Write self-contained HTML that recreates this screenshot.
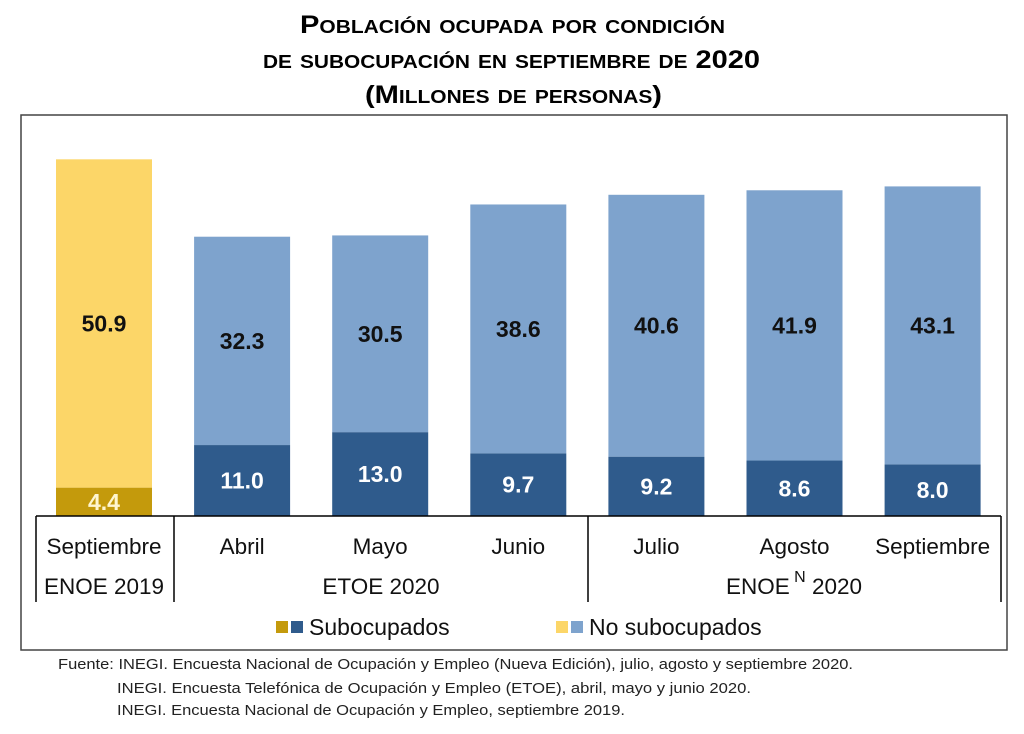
<!DOCTYPE html>
<html><head><meta charset="utf-8"><style>
body{margin:0;background:#fff;font-family:"Liberation Sans",sans-serif;}
svg text{font-family:"Liberation Sans",sans-serif;}
</style></head><body>
<svg width="1024" height="729" xmlns="http://www.w3.org/2000/svg">
<g font-weight="bold" fill="#000">
<text x="300" y="33" font-size="25" textLength="425" lengthAdjust="spacingAndGlyphs" style="font-variant:small-caps">Población ocupada por condición</text>
<text x="263" y="68" font-size="25" textLength="497" lengthAdjust="spacingAndGlyphs" style="font-variant:small-caps">de subocupación en septiembre de 2020</text>
<text x="365" y="103" font-size="25" textLength="297" lengthAdjust="spacingAndGlyphs" style="font-variant:small-caps">(Millones de personas)</text>
</g>
<rect x="21" y="115" width="986" height="535" fill="none" stroke="#444" stroke-width="1.5"/>
<g id="bars"></g>
<g stroke="#000" stroke-width="1.5">
<line x1="36" y1="516" x2="1001" y2="516"/>
<line x1="36" y1="516" x2="36" y2="602"/>
<line x1="174" y1="516" x2="174" y2="602"/>
<line x1="588" y1="516" x2="588" y2="602"/>
<line x1="1001" y1="516" x2="1001" y2="602"/>
</g>
<g id="cats" font-size="22.5" text-anchor="middle" fill="#111"></g>
<g font-size="22.5" text-anchor="middle" fill="#111">
<text x="104" y="594">ENOE 2019</text>
<text x="381" y="594">ETOE 2020</text>
<text x="794" y="594">ENOE<tspan dy="-12" font-size="16"> N</tspan><tspan dy="12"> 2020</tspan></text>
</g>
<g font-size="23" fill="#111">
<rect x="276" y="621" width="12" height="12" fill="#c49a0c"/>
<rect x="291" y="621" width="12" height="12" fill="#2f5b8c"/>
<text x="309" y="635">Subocupados</text>
<rect x="556" y="621" width="12" height="12" fill="#fcd668"/>
<rect x="571" y="621" width="12" height="12" fill="#7ea3cd"/>
<text x="589" y="635">No subocupados</text>
</g>
<g font-size="15" fill="#222">
<text x="58" y="669" textLength="795" lengthAdjust="spacingAndGlyphs">Fuente: INEGI. Encuesta Nacional de Ocupación y Empleo (Nueva Edición), julio, agosto y septiembre 2020.</text>
<text x="117" y="693" textLength="634" lengthAdjust="spacingAndGlyphs">INEGI. Encuesta Telefónica de Ocupación y Empleo (ETOE), abril, mayo y junio 2020.</text>
<text x="117" y="715" textLength="508" lengthAdjust="spacingAndGlyphs">INEGI. Encuesta Nacional de Ocupación y Empleo, septiembre 2019.</text>
</g>
</svg>
<script>
const categories=["Septiembre","Abril","Mayo","Junio","Julio","Agosto","Septiembre"];
const subocupados=[4.4,11.0,13.0,9.7,9.2,8.6,8.0];
const noSubocupados=[50.9,32.3,30.5,38.6,40.6,41.9,43.1];
const NS="http://www.w3.org/2000/svg";
const baseY=516,scale=6.45,x0=104,step=138.1,bw=96;
function yPx(v){return baseY-v*scale;}
function xC(i){return x0+i*step;}
const bars=document.getElementById('bars'),cats=document.getElementById('cats');
function mk(tag,attrs,parent){const e=document.createElementNS(NS,tag);for(const k in attrs)e.setAttribute(k,attrs[k]);parent.appendChild(e);return e;}
categories.forEach((c,i)=>{
 const s=subocupados[i],n=noSubocupados[i],cx=xC(i);
 const r1=mk('rect',{x:cx-bw/2,y:yPx(s),width:bw,height:baseY-yPx(s),fill:i==0?'#c49a0c':'#2f5b8c'},bars);
 
 
 const r2=mk('rect',{x:cx-bw/2,y:yPx(s+n),width:bw,height:yPx(s)-yPx(s+n),fill:i==0?'#fcd668':'#7ea3cd'},bars);
 
 
 const t1=mk('text',{x:cx,y:(yPx(s)+baseY)/2+8,'text-anchor':'middle','font-size':23,'font-weight':'bold',fill:i==0?'#fff6d0':'#fff'},bars);
 t1.textContent=s.toFixed(1);
 
 
 const t2=mk('text',{x:cx,y:(yPx(s)+yPx(s+n))/2+8,'text-anchor':'middle','font-size':23,'font-weight':'bold',fill:'#111'},bars);
 t2.textContent=n.toFixed(1);
 
 
 const ct=mk('text',{x:cx,y:554},cats);
 ct.textContent=c;
 
 
});
</script>
</body></html>
